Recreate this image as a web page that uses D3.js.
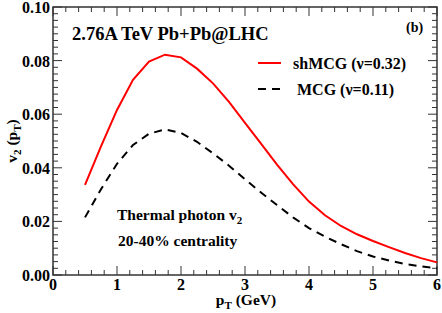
<!DOCTYPE html>
<html>
<head>
<meta charset="utf-8">
<script src="https://cdn.jsdelivr.net/npm/d3@7"></script>
<style>
  body { margin: 0; background: #fff; }
  text { font-family: "Liberation Serif", "Times New Roman", serif; font-weight: bold; fill: #000; }
</style>
</head>
<body>
<div id="chart"></div>
<script>
var pT = [0.5, 0.75, 1.0, 1.25, 1.5, 1.75, 2.0, 2.25, 2.5, 2.75, 3.0, 3.25, 3.5, 3.75,
          4.0, 4.25, 4.5, 4.75, 5.0, 5.25, 5.5, 5.75, 6.0];
var shMCG = [0.0336, 0.048, 0.0616, 0.0728, 0.0796, 0.0822, 0.0812, 0.077, 0.0715, 0.0646,
             0.0568, 0.049, 0.0412, 0.0339, 0.0274, 0.0223, 0.0183, 0.0152, 0.0127, 0.0104,
             0.0082, 0.0063, 0.0047];
var MCG = [0.0215, 0.032, 0.0415, 0.0485, 0.0527, 0.0543, 0.053, 0.0497, 0.0454, 0.0408,
           0.0357, 0.0308, 0.0261, 0.0215, 0.0175, 0.0143, 0.0115, 0.0089, 0.0069, 0.0054,
           0.0041, 0.0032, 0.0025];
var xTicks = [0, 1, 2, 3, 4, 5, 6];
var yTicks = [0, 0.02, 0.04, 0.06, 0.08, 0.10];
var legendLabels = ["shMCG (\u03bd=0.32)", "MCG (\u03bd=0.11)"];

var W = 442, H = 313;
var plotL = 53, plotR = 437, plotT = 7, plotB = 275;

var svg = d3.select("#chart").append("svg").attr("width", W).attr("height", H);

var x = d3.scaleLinear().domain([0, 6]).range([plotL, plotR]);
var y = d3.scaleLinear().domain([0, 0.10]).range([plotB, plotT]);

var axisColor = "#333";

// minor + major ticks on all four sides, pointing inward
var xMinor = d3.range(0, 6.0001, 0.2);
var yMinor = d3.range(0, 0.10001, 0.0025);

var tickG = svg.append("g").attr("stroke", axisColor).attr("stroke-width", 1);
xMinor.forEach(function(v){
  var isMajor = Math.abs(v - Math.round(v)) < 1e-6;
  var len = isMajor ? 9 : 5;
  tickG.append("line").attr("x1", x(v)).attr("x2", x(v)).attr("y1", plotB).attr("y2", plotB - len);
  tickG.append("line").attr("x1", x(v)).attr("x2", x(v)).attr("y1", plotT).attr("y2", plotT + len);
});
yMinor.forEach(function(v){
  var isMajor = Math.abs(v / 0.02 - Math.round(v / 0.02)) < 1e-6;
  var len = isMajor ? 9 : 5;
  tickG.append("line").attr("x1", plotL).attr("x2", plotL + len).attr("y1", y(v)).attr("y2", y(v));
  tickG.append("line").attr("x1", plotR).attr("x2", plotR - len).attr("y1", y(v)).attr("y2", y(v));
});

svg.append("rect")
  .attr("x", plotL).attr("y", plotT)
  .attr("width", plotR - plotL).attr("height", plotB - plotT)
  .attr("fill", "none").attr("stroke", axisColor).attr("stroke-width", 1.5);

// tick labels
svg.selectAll(".xlab").data(xTicks).enter().append("text")
  .attr("class", "xlab")
  .attr("x", function(d){ return x(d); })
  .attr("y", 290)
  .attr("text-anchor", "middle")
  .style("font-size", "16px")
  .text(function(d){ return d; });

svg.selectAll(".ylab").data(yTicks).enter().append("text")
  .attr("class", "ylab")
  .attr("x", 50)
  .attr("y", function(d){ return y(d) + 6; })
  .attr("text-anchor", "end")
  .style("font-size", "16px")
  .text(function(d){ return d3.format(".2f")(d); });

// axis titles
var xt = svg.append("text").attr("x", 246).attr("y", 305).attr("text-anchor", "middle").style("font-size", "15.5px");
xt.append("tspan").text("p");
xt.append("tspan").attr("dy", 4).style("font-size", "11px").text("T");
xt.append("tspan").attr("dy", -4).text(" (GeV)");

var yt = svg.append("text").attr("transform", "translate(17,141) rotate(-90)").attr("text-anchor", "middle").style("font-size", "15.5px");
yt.append("tspan").text("v");
yt.append("tspan").attr("dy", 4).style("font-size", "11px").text("2");
yt.append("tspan").attr("dy", -4).text(" (p");
yt.append("tspan").attr("dy", 4).style("font-size", "11px").text("T");
yt.append("tspan").attr("dy", -4).text(")");

// curves
var line = d3.line()
  .x(function(d){ return x(d[0]); })
  .y(function(d){ return y(d[1]); });

svg.append("path")
  .datum(d3.zip(pT, shMCG))
  .attr("d", line)
  .attr("fill", "none").attr("stroke", "#ff0000").attr("stroke-width", 2);

svg.append("path")
  .datum(d3.zip(pT, MCG))
  .attr("d", line)
  .attr("fill", "none").attr("stroke", "#000").attr("stroke-width", 2)
  .attr("stroke-dasharray", "8,6");

// annotations
svg.append("text").attr("x", 72).attr("y", 40).style("font-size", "18.5px").text("2.76A TeV Pb+Pb@LHC");
svg.append("text").attr("x", 406).attr("y", 32).style("font-size", "14px").text("(b)");

var th = svg.append("text").attr("x", 117).attr("y", 220).style("font-size", "15.5px");
th.append("tspan").text("Thermal photon v");
th.append("tspan").attr("dy", 4).style("font-size", "11px").text("2");
svg.append("text").attr("x", 118).attr("y", 246).style("font-size", "15.5px").text("20-40% centrality");

// legend
var legendY = [63, 89];
svg.append("line").attr("x1", 258).attr("x2", 281).attr("y1", legendY[0]).attr("y2", legendY[0])
  .attr("stroke", "#ff0000").attr("stroke-width", 2);
svg.append("line").attr("x1", 258).attr("x2", 281).attr("y1", legendY[1]).attr("y2", legendY[1])
  .attr("stroke", "#000").attr("stroke-width", 2).attr("stroke-dasharray", "8,6");
svg.selectAll(".leg").data(legendLabels).enter().append("text")
  .attr("class", "leg")
  .attr("x", function(d, i){ return i === 0 ? 293 : 297; })
  .attr("y", function(d, i){ return legendY[i] + 6; })
  .style("font-size", "16px")
  .text(function(d){ return d; });
</script>
</body>
</html>
